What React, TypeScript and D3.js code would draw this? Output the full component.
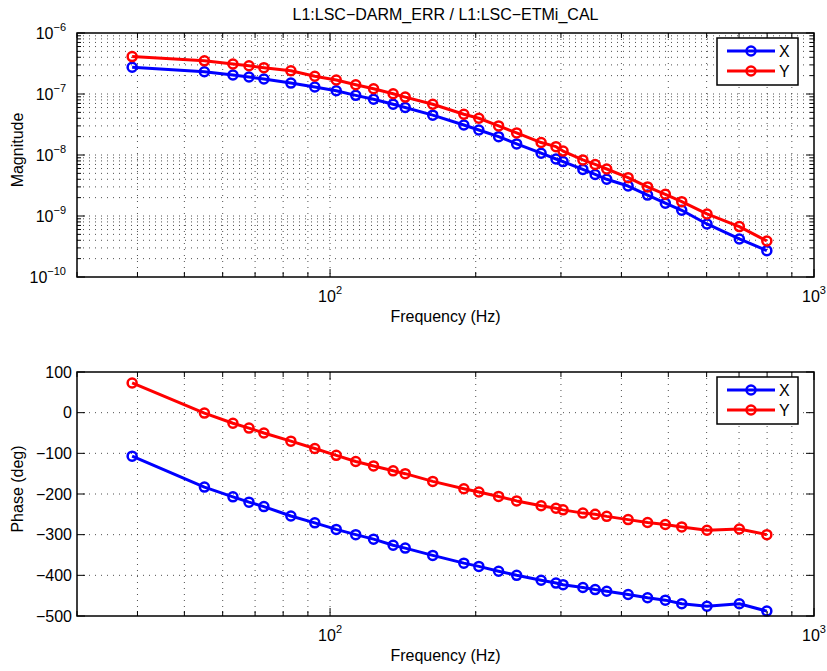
import React, { useEffect, useRef } from 'react';
import * as d3 from 'd3';

// Frequencies (Hz) of the measured points
const FREQ = [39, 55, 63, 68, 73, 83, 93, 103, 113, 123, 135, 143, 163, 189, 203, 223, 243, 273, 293, 303, 333, 353, 373, 413, 453, 493, 533, 601, 701, 799];

const MAG_X = [2.74e-7, 2.32e-7, 2.05e-7, 1.9e-7, 1.76e-7, 1.51e-7, 1.3e-7, 1.13e-7, 9.5e-8, 8.2e-8, 6.8e-8, 6.0e-8, 4.5e-8, 3.1e-8, 2.57e-8, 2.0e-8, 1.52e-8, 1.07e-8, 8.6e-9, 7.8e-9, 5.8e-9, 4.8e-9, 4.0e-9, 3.1e-9, 2.2e-9, 1.62e-9, 1.24e-9, 7.4e-10, 4.2e-10, 2.7e-10];
const MAG_Y = [4.1e-7, 3.5e-7, 3.1e-7, 2.9e-7, 2.7e-7, 2.4e-7, 1.95e-7, 1.7e-7, 1.42e-7, 1.22e-7, 1.01e-7, 8.9e-8, 6.8e-8, 4.65e-8, 4.0e-8, 3.0e-8, 2.3e-8, 1.6e-8, 1.37e-8, 1.16e-8, 8.3e-9, 7.0e-9, 5.9e-9, 4.25e-9, 3.0e-9, 2.27e-9, 1.72e-9, 1.08e-9, 6.7e-10, 3.9e-10];

const PHASE_X = [-107, -183, -207, -220, -231, -254, -271, -287, -300, -311, -326, -333, -351, -370, -378, -390, -400, -412, -419, -423, -430, -435, -439, -447, -455, -461, -470, -476, -470, -488];
const PHASE_Y = [73, -1, -26, -38, -50, -70, -88, -105, -120, -131, -143, -150, -169, -187, -195, -206, -217, -229, -235, -239, -247, -250, -255, -263, -270, -275, -281, -289, -286, -300];

const SERIES = [
  { name: 'X', color: '#0000ff' },
  { name: 'Y', color: '#ff0000' },
];

const X_DOMAIN = [30, 1000];
const X_TICK_EXP = [2, 3];
const MAG_DOMAIN = [1e-10, 1e-6];
const MAG_TICK_EXP = [-10, -9, -8, -7, -6];
const PHASE_DOMAIN = [-500, 100];
const PHASE_TICKS = [-500, -400, -300, -200, -100, 0, 100];

const TITLE = 'L1:LSC\u2212DARM_ERR / L1:LSC\u2212ETMi_CAL';

const W = 827;
const H = 671;
const FONT = 'Arial, "Liberation Sans", Helvetica, sans-serif';
const FS = '16px';
const minus = (n: number) => String(n).replace('-', '\u2212');

export default function App() {
  const svgRef = useRef<SVGSVGElement>(null);

  useEffect(() => {
    document.body.style.margin = '0';
    const svg = d3.select(svgRef.current);
    svg.selectAll('*').remove();

    const left = 77;
    const right = 814;
    const x = d3.scaleLog().domain(X_DOMAIN).range([left, right]);
    const xTicks = x.ticks();
    const isPow10 = (v: number) => Math.abs(Math.log10(v) - Math.round(Math.log10(v))) < 1e-9;

    svg.append('text').attr('x', (left + right) / 2).attr('y', 20).attr('text-anchor', 'middle')
      .style('font-size', FS).style('font-family', FONT).style('fill', '#000').text(TITLE);

    // one panel: grid, lines+markers, box with inward ticks, labels, legend
    const panel = (
      top: number, bottom: number,
      y: any, yTicks: number[], yMinorTicks: number[],
      yLabel: string, ySeries: number[][],
      yTickText: (g: any, v: number) => void,
    ) => {
      const g = svg.append('g');

      // dotted grid
      const gridX = xTicks.filter(t => t > X_DOMAIN[0] && t < X_DOMAIN[1]);
      const gridY = yTicks.concat(yMinorTicks).filter(t => y(t) > top + 0.5 && y(t) < bottom - 0.5);
      g.selectAll('.gx').data(gridX).join('line')
        .attr('x1', d => x(d)).attr('x2', d => x(d)).attr('y1', top).attr('y2', bottom)
        .attr('stroke', '#222').attr('stroke-width', 0.8).attr('stroke-dasharray', '1 5');
      g.selectAll('.gy').data(gridY).join('line')
        .attr('x1', left).attr('x2', right).attr('y1', d => y(d)).attr('y2', d => y(d))
        .attr('stroke', '#222').attr('stroke-width', 0.8).attr('stroke-dasharray', '1 5');

      // data
      ySeries.forEach((vals, si) => {
        const pts = FREQ.map((f, i) => [x(f), y(vals[i])] as [number, number]);
        g.append('path').datum(pts).attr('d', d3.line())
          .attr('fill', 'none').attr('stroke', SERIES[si].color).attr('stroke-width', 3)
          .attr('stroke-linejoin', 'round');
        g.selectAll(`.m${si}`).data(pts).join('circle')
          .attr('cx', d => d[0]).attr('cy', d => d[1]).attr('r', 4.5)
          .attr('fill', 'none').attr('stroke', SERIES[si].color).attr('stroke-width', 2.5);
      });

      // axes box
      g.append('rect').attr('x', left).attr('y', top).attr('width', right - left).attr('height', bottom - top)
        .attr('fill', 'none').attr('stroke', '#000').attr('stroke-width', 1.5);

      // x ticks (inside, bottom and top)
      xTicks.forEach(t => {
        const len = isPow10(t) ? 8 : 5;
        g.append('line').attr('x1', x(t)).attr('x2', x(t)).attr('y1', bottom).attr('y2', bottom - len)
          .attr('stroke', '#000').attr('stroke-width', 1);
        g.append('line').attr('x1', x(t)).attr('x2', x(t)).attr('y1', top).attr('y2', top + len)
          .attr('stroke', '#000').attr('stroke-width', 1);
      });
      // y ticks (inside, left and right)
      yTicks.forEach(t => {
        [[left, left + 8], [right, right - 8]].forEach(([a, b]) =>
          g.append('line').attr('x1', a).attr('x2', b).attr('y1', y(t)).attr('y2', y(t))
            .attr('stroke', '#000').attr('stroke-width', 1));
      });
      yMinorTicks.forEach(t => {
        [[left, left + 4], [right, right - 4]].forEach(([a, b]) =>
          g.append('line').attr('x1', a).attr('x2', b).attr('y1', y(t)).attr('y2', y(t))
            .attr('stroke', '#000').attr('stroke-width', 1));
      });

      // x tick labels 10^n
      X_TICK_EXP.forEach(e => {
        const t = g.append('text').attr('x', x(10 ** e)).attr('y', bottom + 25).attr('text-anchor', 'middle')
          .style('font-family', FONT).style('font-size', FS).style('fill', '#000');
        t.append('tspan').text('10');
        t.append('tspan').attr('dy', -8).style('font-size', '11px').text(String(e));
      });
      yTicks.forEach(v => yTickText(g, v));

      g.append('text').attr('x', (left + right) / 2).attr('y', bottom + 45).attr('text-anchor', 'middle')
        .style('font-family', FONT).style('font-size', FS).style('fill', '#000').text('Frequency (Hz)');
      g.append('text').attr('transform', `translate(23,${(top + bottom) / 2 - 5}) rotate(-90)`)
        .attr('text-anchor', 'middle').style('font-family', FONT).style('font-size', FS)
        .style('fill', '#000').text(yLabel);

      // legend
      const lx = 717, ly = top + 5, lw = 81, lh = 47;
      g.append('rect').attr('x', lx).attr('y', ly).attr('width', lw).attr('height', lh)
        .attr('fill', '#fff').attr('stroke', '#000').attr('stroke-width', 1.5);
      SERIES.forEach((s, i) => {
        const ry = ly + 13 + i * 20;
        g.append('line').attr('x1', lx + 10).attr('x2', lx + 58).attr('y1', ry).attr('y2', ry)
          .attr('stroke', s.color).attr('stroke-width', 3);
        g.append('circle').attr('cx', lx + 34).attr('cy', ry).attr('r', 4.5)
          .attr('fill', 'none').attr('stroke', s.color).attr('stroke-width', 2.5);
        g.append('text').attr('x', lx + 62).attr('y', ry + 6)
          .style('font-family', FONT).style('font-size', FS).style('fill', '#000').text(s.name);
      });
    };

    // magnitude panel
    const yMag = d3.scaleLog().domain(MAG_DOMAIN).range([277, 33]);
    const magMajor = MAG_TICK_EXP.map(e => 10 ** e);
    const magMinor = yMag.ticks().filter(t => !isPow10(t));
    panel(33, 277, yMag, magMajor, magMinor, 'Magnitude', [MAG_X, MAG_Y], (g, v) => {
      const e = Math.round(Math.log10(v));
      const t = g.append('text').attr('x', 66).attr('y', yMag(v) + 5.5).attr('text-anchor', 'end')
        .style('font-family', FONT).style('font-size', FS).style('fill', '#000');
      t.append('tspan').text('10');
      t.append('tspan').attr('dy', -8).style('font-size', '11px').text(minus(e));
    });

    // phase panel
    const yPh = d3.scaleLinear().domain(PHASE_DOMAIN).range([616, 372]);
    panel(372, 616, yPh, PHASE_TICKS, [], 'Phase (deg)', [PHASE_X, PHASE_Y], (g, v) => {
      g.append('text').attr('x', 72).attr('y', yPh(v) + 5.5).attr('text-anchor', 'end')
        .style('font-family', FONT).style('font-size', FS).style('fill', '#000').text(minus(v));
    });
  }, []);

  return <svg ref={svgRef} width={W} height={H} style={{ display: 'block', background: '#fff' }} />;
}
